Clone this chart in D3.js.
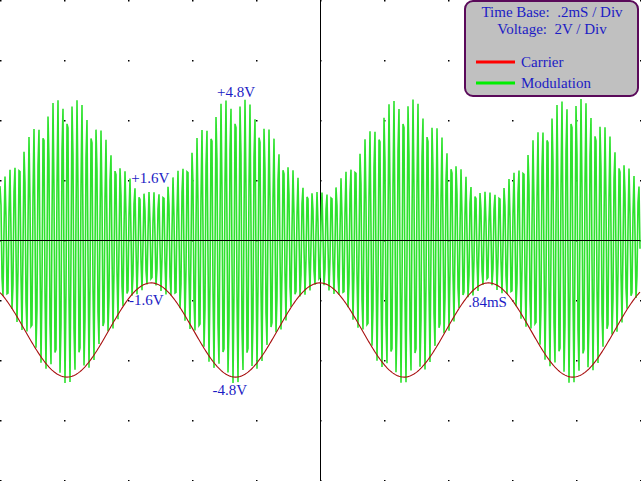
<!DOCTYPE html>
<html>
<head>
<meta charset="utf-8">
<script src="https://cdn.jsdelivr.net/npm/d3@7"></script>
<style>
  html, body { margin: 0; padding: 0; background: #fff; }
  svg { display: block; }
  text { font-family: "Liberation Serif", "Times New Roman", serif; white-space: pre; }
</style>
</head>
<body>
<div id="scope"></div>
<script>
// scope settings
var timeRange = [0, 2.0];        // ms, 10 div x .2mS
var voltRange = [-8, 8];         // V, 8 div x 2V
var timeDivs = d3.range(0, 2.01, 0.2);
var voltDivs = d3.range(-8, 8.01, 2);

// signal
var carrierPeriod = [0.015];     // ms
var modPeriod = [0.527];         // ms
var modPeakTime = [0.209];       // ms, where envelope is largest
var greenEnvelope = [1.6, 4.8];  // V min / max
var redEnvelope = [1.43, 4.57];  // V min / max (lower envelope curve)

// annotations
var noteText = ["+4.8V", "+1.6V", "-1.6V", "-4.8V", ".84mS"];
var noteTime = [0.678, 0.41, 0.403, 0.664, 1.463];
var noteVolt = [4.77, 1.9, -2.17, -5.17, -2.23];

var legendTitle = ["Time Base:  .2mS / Div", "Voltage:  2V / Div"];
var legendNames = ["Carrier", "Modulation"];
var legendColors = ["#ff0000", "#00ee00"];

var w = 641, h = 481;
var svg = d3.select("#scope").append("svg")
  .attr("width", w)
  .attr("height", h);

var x = d3.scaleLinear().domain(timeRange).range([0, 640]);
var y = d3.scaleLinear().domain(voltRange).range([480, 0]);

function envelope(t, env) {
  var mid = (env[0] + env[1]) / 2, amp = (env[1] - env[0]) / 2;
  return mid + amp * Math.cos(2 * Math.PI * (t - modPeakTime[0]) / modPeriod[0]);
}

// grid dots
var dots = [];
timeDivs.forEach(function(t){ voltDivs.forEach(function(v){ dots.push([t, v]); }); });
svg.selectAll("rect.dot")
  .data(dots)
  .enter()
  .append("rect")
  .attr("class", "dot")
  .attr("x", function(d){ return x(d[0]); })
  .attr("y", function(d){ return y(d[1]); })
  .attr("width", 1.5)
  .attr("height", 1.5)
  .attr("fill", "#000");

// vertical axis (under the trace)
svg.append("line")
  .attr("x1", x(1.0) + 0.5).attr("x2", x(1.0) + 0.5)
  .attr("y1", 0).attr("y2", 480)
  .attr("stroke", "#000").attr("stroke-width", 1);

// modulated trace, one sample per pixel
var times = d3.range(0, 641).map(function(i){ return x.invert(i); });
var green = times.map(function(t){
  return [t, envelope(t, greenEnvelope) * Math.sin(2 * Math.PI * t / carrierPeriod[0] + 1.2)];
});
var line = d3.line()
  .x(function(d){ return x(d[0]); })
  .y(function(d){ return y(d[1]); });

svg.append("path")
  .datum(green)
  .attr("d", line)
  .attr("fill", "none")
  .attr("stroke", "#2ee22e")
  .attr("stroke-width", 1.6);

// horizontal axis (over the trace)
svg.append("line")
  .attr("x1", 0).attr("x2", 640)
  .attr("y1", y(0) + 0.5).attr("y2", y(0) + 0.5)
  .attr("stroke", "#000").attr("stroke-width", 1);

// lower envelope
var red = times.map(function(t){ return [t, -envelope(t, redEnvelope)]; });
svg.append("path")
  .datum(red)
  .attr("d", line)
  .attr("fill", "none")
  .attr("stroke", "#a81010")
  .attr("stroke-width", 1.1);

// annotations
svg.selectAll("text.note")
  .data(noteText)
  .enter()
  .append("text")
  .attr("class", "note")
  .text(function(d){ return d; })
  .attr("x", function(d, i){ return x(noteTime[i]); })
  .attr("y", function(d, i){ return y(noteVolt[i]); })
  .attr("font-size", 15)
  .attr("fill", "#1c1cc4");

// legend box
var lg = svg.append("g");
lg.append("rect")
  .attr("x", 465).attr("y", 1)
  .attr("width", 173).attr("height", 95)
  .attr("rx", 8).attr("ry", 8)
  .attr("fill", "#c0c0c0")
  .attr("stroke", "#5a0a5a")
  .attr("stroke-width", 2);

lg.selectAll("text.title")
  .data(legendTitle)
  .enter()
  .append("text")
  .attr("class", "title")
  .text(function(d){ return d; })
  .attr("x", 552)
  .attr("y", function(d, i){ return 17 + i * 17; })
  .attr("text-anchor", "middle")
  .attr("font-size", 15)
  .attr("fill", "#1c1cc4");

lg.selectAll("line.key")
  .data(legendColors)
  .enter()
  .append("line")
  .attr("class", "key")
  .attr("x1", 476).attr("x2", 515)
  .attr("y1", function(d, i){ return 62 + i * 21; })
  .attr("y2", function(d, i){ return 62 + i * 21; })
  .attr("stroke", function(d){ return d; })
  .attr("stroke-width", 3);

lg.selectAll("text.key")
  .data(legendNames)
  .enter()
  .append("text")
  .attr("class", "key")
  .text(function(d){ return d; })
  .attr("x", 521)
  .attr("y", function(d, i){ return 67 + i * 21; })
  .attr("font-size", 15)
  .attr("fill", "#1c1cc4");
</script>
</body>
</html>
